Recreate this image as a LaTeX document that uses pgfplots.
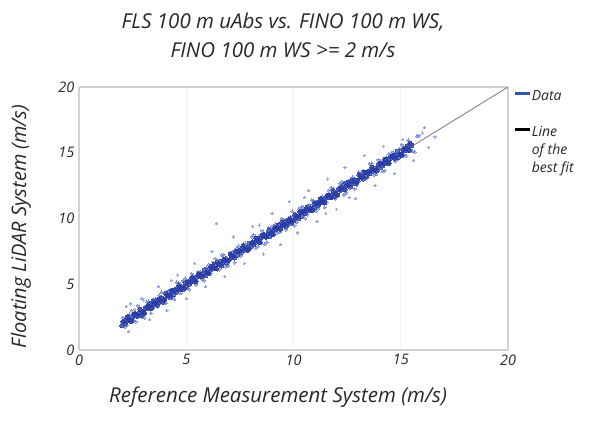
\documentclass[border=0pt]{standalone}
\usepackage{fontspec}
\setmainfont{Open Sans}
\usepackage{pgfplots}
\pgfplotsset{compat=1.18}
\definecolor{txt}{RGB}{40,40,40}
\definecolor{framegray}{RGB}{210,210,210}
\definecolor{gridgray}{RGB}{242,242,242}
\definecolor{coreblue}{RGB}{40,60,165}
\definecolor{fringeblue}{RGB}{85,110,200}
\definecolor{outblue}{RGB}{130,150,220}
\definecolor{legblue}{RGB}{50,85,170}
\definecolor{fitgray}{RGB}{140,140,140}

\begin{document}
\begin{tikzpicture}
\path[use as bounding box] (-79pt,-82pt) rectangle (519pt,350pt);
\begin{axis}[
    scale only axis,
    width=429pt, height=263pt,
    xmin=0, xmax=20, ymin=0, ymax=20,
    xtick={0,5,10,15,20}, ytick={0,5,10,15,20},
    tick style={draw=none},
    separate axis lines,
    axis line style={draw=framegray, line width=2pt},
    xmajorgrids, grid style={gridgray, line width=0.8pt},
    /pgf/number format/assume math mode=true,
    ticklabel style={font=\fontsize{14.5}{16}\selectfont\itshape, text=txt},
    xticklabel style={yshift=-1pt},
    yticklabel style={xshift=-1pt},
    title={FLS 100 m uAbs vs. FINO 100 m WS,\\FINO 100 m WS >= 2 m/s},
    title style={at={(axis description cs:0.4755,1.173)}, anchor=center, align=center,
        font=\fontsize{20.5}{29}\selectfont\itshape, text=txt},
    xlabel={Reference Measurement System (m/s)},
    xlabel style={at={(axis description cs:0.4639,-0.1787)}, anchor=center,
        font=\fontsize{20.5}{24}\selectfont\itshape, text=txt},
    ylabel={Floating LiDAR System (m/s)},
    ylabel style={at={(axis description cs:-0.1352,0.4696)}, anchor=center,
        font=\fontsize{20}{24}\selectfont\itshape, text=txt},
    legend cell align=left,
    legend style={at={(1,1)}, anchor=north west, xshift=6pt, yshift=-3.5pt, draw=none, fill=none,
        inner sep=0pt, row sep=5pt, font=\fontsize{14}{16}\selectfont\itshape, text=txt,
        nodes={inner sep=0pt, text height=10pt, text depth=3pt},
        /tikz/every even column/.append style={column sep=6pt}},
    legend image code/.code={\draw[#1] (0pt,4pt) -- (15pt,4pt);},
]
\addlegendimage{line width=2.6pt, color=legblue}
\addlegendentry{Data}
\addlegendimage{empty legend}
\addlegendentry{\mbox{}}
\addlegendimage{line width=2.6pt, black}
\addlegendentry{Line}
\addlegendimage{empty legend}
\addlegendentry{of the}
\addlegendimage{empty legend}
\addlegendentry{best fit}

% outliers
\addplot[outblue, only marks, mark=*, mark size=1.1pt, mark options={draw=outblue, line width=0pt, fill=outblue}, opacity=0.6, forget plot] coordinates {
(2.2,3.3) (2.4,3.5) (2.6,3.1) (2.3,1.4) (2.9,3.9) (3.3,2.3) (3.7,4.8) (4.1,3.0)
(4.6,5.7) (5.0,3.9) (5.4,6.6) (5.9,4.8) (6.4,9.6) (6.2,7.5) (6.8,5.6) (7.2,8.6)
(7.7,6.6) (8.1,9.4) (8.6,7.3) (9.0,10.4) (9.4,8.0) (9.8,11.3) (10.2,8.9) (10.7,12.1)
(11.1,9.8) (11.6,13.0) (12.0,10.7) (12.4,13.9) (12.9,11.5) (13.3,14.8) (13.8,12.5)
(14.2,15.5) (14.7,13.4) (15.1,16.0) (15.6,14.4) (16.0,16.5) (16.3,15.4) (16.6,16.2)
(16.1,16.9) (11.5,10.4) (12.6,11.6) (10.5,11.6) (8.4,9.5) (4.3,5.3) (3.0,3.8)
};
% fringe
\addplot[fringeblue, only marks, mark=*, mark size=1.5pt, mark options={draw=fringeblue, line width=0pt, fill=fringeblue}, opacity=0.5, forget plot] coordinates {
(2.05,2.45) (2.25,1.90) (2.45,3.00) (2.65,2.15) (2.85,3.15) (3.05,2.45) (3.25,3.70)
(3.45,3.85) (3.65,3.30) (3.85,4.40) (4.05,3.55) (4.25,4.55) (4.45,3.85) (4.65,5.10)
(4.85,5.25) (5.05,4.70) (5.25,5.80) (5.45,4.95) (5.65,5.95) (5.85,5.25) (6.05,6.50)
(6.25,6.65) (6.45,6.10) (6.65,7.20) (6.85,6.35) (7.05,7.35) (7.25,6.65) (7.45,7.90)
(7.65,8.05) (7.85,7.50) (8.05,8.60) (8.25,7.75) (8.45,8.75) (8.65,8.05) (8.85,9.30)
(9.05,9.45) (9.25,8.90) (9.45,10.00) (9.65,9.15) (9.85,10.15) (10.05,9.45) (10.25,10.70)
(10.45,10.85) (10.65,10.30) (10.85,11.40) (11.05,10.55) (11.25,11.55) (11.45,10.85) (11.65,12.10)
(11.85,12.25) (12.05,11.70) (12.25,12.80) (12.45,11.95) (12.65,12.95) (12.85,12.25) (13.05,13.50)
(13.25,13.65) (13.45,13.10) (13.65,14.20) (13.85,13.35) (14.05,14.35) (14.25,13.65) (14.45,14.90)
(14.65,15.05) (14.85,14.50) (15.05,15.60) (15.25,14.75) (15.45,15.75) (15.65,15.05) (15.85,16.30)
(2.15,1.75) (2.35,2.70) (2.55,2.25) (2.75,3.35) (2.95,2.50) (3.15,3.65) (3.35,2.80)
(3.55,3.85) (3.75,4.15) (3.95,3.55) (4.15,4.50) (4.35,4.05) (4.55,5.15) (4.75,4.30)
(4.95,5.45) (5.15,4.60) (5.35,5.65) (5.55,5.95) (5.75,5.35) (5.95,6.30) (6.15,5.85)
(6.35,6.95) (6.55,6.10) (6.75,7.25) (6.95,6.40) (7.15,7.45) (7.35,7.75) (7.55,7.15)
(7.75,8.10) (7.95,7.65) (8.15,8.75) (8.35,7.90) (8.55,9.05) (8.75,8.20) (8.95,9.25)
(9.15,9.55) (9.35,8.95) (9.55,9.90) (9.75,9.45) (9.95,10.55) (10.15,9.70) (10.35,10.85)
(10.55,10.00) (10.75,11.05) (10.95,11.35) (11.15,10.75) (11.35,11.70) (11.55,11.25) (11.75,12.35)
(11.95,11.50) (12.15,12.65) (12.35,11.80) (12.55,12.85) (12.75,13.15) (12.95,12.55) (13.15,13.50)
(13.35,13.05) (13.55,14.15) (13.75,13.30) (13.95,14.45) (14.15,13.60) (14.35,14.65) (14.55,14.95)
(14.75,14.35) (14.95,15.30) (15.15,14.85) (15.35,15.95) (15.55,15.10) (15.75,16.25)
};
% core
\addplot[coreblue, only marks, mark=*, mark size=2.2pt, mark options={draw=coreblue, line width=0pt, fill=coreblue}, opacity=0.7, forget plot] coordinates {
(2.0,1.85) (2.1,2.2) (2.2,2.15) (2.3,2.5) (2.4,2.2) (2.5,2.55) (2.6,2.75) (2.7,2.6) (2.8,2.8) (2.9,2.65)
(3.0,2.85) (3.1,3.2) (3.2,3.15) (3.3,3.5) (3.4,3.2) (3.5,3.55) (3.6,3.75) (3.7,3.6) (3.8,3.8) (3.9,3.65)
(4.0,3.85) (4.1,4.2) (4.2,4.15) (4.3,4.5) (4.4,4.2) (4.5,4.55) (4.6,4.75) (4.7,4.6) (4.8,4.8) (4.9,4.65)
(5.0,4.85) (5.1,5.2) (5.2,5.15) (5.3,5.5) (5.4,5.2) (5.5,5.55) (5.6,5.75) (5.7,5.6) (5.8,5.8) (5.9,5.65)
(6.0,5.85) (6.1,6.2) (6.2,6.15) (6.3,6.5) (6.4,6.2) (6.5,6.55) (6.6,6.75) (6.7,6.6) (6.8,6.8) (6.9,6.65)
(7.0,6.85) (7.1,7.2) (7.2,7.15) (7.3,7.5) (7.4,7.2) (7.5,7.55) (7.6,7.75) (7.7,7.6) (7.8,7.8) (7.9,7.65)
(8.0,7.85) (8.1,8.2) (8.2,8.15) (8.3,8.5) (8.4,8.2) (8.5,8.55) (8.6,8.75) (8.7,8.6) (8.8,8.8) (8.9,8.65)
(9.0,8.85) (9.1,9.2) (9.2,9.15) (9.3,9.5) (9.4,9.2) (9.5,9.55) (9.6,9.75) (9.7,9.6) (9.8,9.8) (9.9,9.65)
(10.0,9.85) (10.1,10.2) (10.2,10.15) (10.3,10.5) (10.4,10.2) (10.5,10.55) (10.6,10.75) (10.7,10.6) (10.8,10.8) (10.9,10.65)
(11.0,10.85) (11.1,11.2) (11.2,11.15) (11.3,11.5) (11.4,11.2) (11.5,11.55) (11.6,11.75) (11.7,11.6) (11.8,11.8) (11.9,11.65)
(12.0,11.85) (12.1,12.2) (12.2,12.15) (12.3,12.5) (12.4,12.2) (12.5,12.55) (12.6,12.75) (12.7,12.6) (12.8,12.8) (12.9,12.65)
(13.0,12.85) (13.1,13.2) (13.2,13.15) (13.3,13.5) (13.4,13.2) (13.5,13.55) (13.6,13.75) (13.7,13.6) (13.8,13.8) (13.9,13.65)
(14.0,13.85) (14.1,14.2) (14.2,14.15) (14.3,14.5) (14.4,14.2) (14.5,14.55) (14.6,14.75) (14.7,14.6) (14.8,14.8) (14.9,14.65)
(15.0,14.85) (15.1,15.2) (15.2,15.15) (15.3,15.5) (15.4,15.2) (15.5,15.55)
(2.05,2.15) (2.15,2.00) (2.25,2.50) (2.35,2.30) (2.45,2.20) (2.55,2.70)
(2.65,2.75) (2.75,2.60) (2.85,3.10) (2.95,2.90) (3.05,2.80) (3.15,3.30)
(3.25,3.35) (3.35,3.20) (3.45,3.70) (3.55,3.50) (3.65,3.40) (3.75,3.90)
(3.85,3.95) (3.95,3.80) (4.05,4.30) (4.15,4.10) (4.25,4.00) (4.35,4.50)
(4.45,4.55) (4.55,4.40) (4.65,4.90) (4.75,4.70) (4.85,4.60) (4.95,5.10)
(5.05,5.15) (5.15,5.00) (5.25,5.50) (5.35,5.30) (5.45,5.20) (5.55,5.70)
(5.65,5.75) (5.75,5.60) (5.85,6.10) (5.95,5.90) (6.05,5.80) (6.15,6.30)
(6.25,6.35) (6.35,6.20) (6.45,6.70) (6.55,6.50) (6.65,6.40) (6.75,6.90)
(6.85,6.95) (6.95,6.80) (7.05,7.30) (7.15,7.10) (7.25,7.00) (7.35,7.50)
(7.45,7.55) (7.55,7.40) (7.65,7.90) (7.75,7.70) (7.85,7.60) (7.95,8.10)
(8.05,8.15) (8.15,8.00) (8.25,8.50) (8.35,8.30) (8.45,8.20) (8.55,8.70)
(8.65,8.75) (8.75,8.60) (8.85,9.10) (8.95,8.90) (9.05,8.80) (9.15,9.30)
(9.25,9.35) (9.35,9.20) (9.45,9.70) (9.55,9.50) (9.65,9.40) (9.75,9.90)
(9.85,9.95) (9.95,9.80) (10.05,10.30) (10.15,10.10) (10.25,10.00) (10.35,10.50)
(10.45,10.55) (10.55,10.40) (10.65,10.90) (10.75,10.70) (10.85,10.60) (10.95,11.10)
(11.05,11.15) (11.15,11.00) (11.25,11.50) (11.35,11.30) (11.45,11.20) (11.55,11.70)
(11.65,11.75) (11.75,11.60) (11.85,12.10) (11.95,11.90) (12.05,11.80) (12.15,12.30)
(12.25,12.35) (12.35,12.20) (12.45,12.70) (12.55,12.50) (12.65,12.40) (12.75,12.90)
(12.85,12.95) (12.95,12.80) (13.05,13.30) (13.15,13.10) (13.25,13.00) (13.35,13.50)
(13.45,13.55) (13.55,13.40) (13.65,13.90) (13.75,13.70) (13.85,13.60) (13.95,14.10)
(14.05,14.15) (14.15,14.00) (14.25,14.50) (14.35,14.30) (14.45,14.20) (14.55,14.70)
(14.65,14.75) (14.75,14.60) (14.85,15.10) (14.95,14.90) (15.05,14.80) (15.15,15.30)
(15.25,15.35) (15.35,15.20) (15.45,15.70)
};
% line of the best fit
\addplot[fitgray, line width=1pt, forget plot] coordinates {(1.9,1.8) (20,20)};
\end{axis}
\end{tikzpicture}
\end{document}
